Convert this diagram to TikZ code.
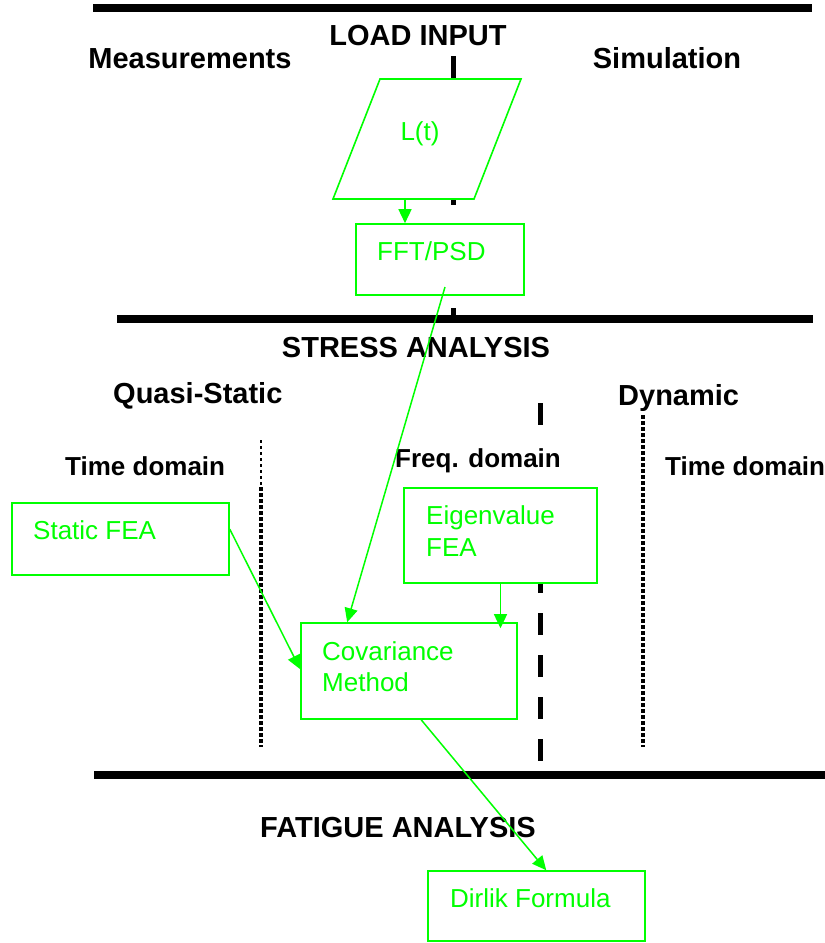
\documentclass[tikz,border=0pt]{standalone}
\usepackage{fontspec}
\setmainfont{Liberation Sans}
\usetikzlibrary{arrows.meta,calc}
\definecolor{grn}{RGB}{0,255,0}
\begin{document}
\begin{tikzpicture}[x=1pt,y=-1pt,
  rule/.style={line width=8pt},
  vdashed/.style={line width=5pt, dash pattern=on 23pt off 19pt},
  vdotted/.style={line width=3.5pt, dash pattern=on 3.5pt off 2.5pt},
  head/.style={font=\fontsize{29}{33}\selectfont\bfseries, inner sep=0pt, anchor=base},
  subhead/.style={font=\fontsize{26}{30}\selectfont\bfseries, inner sep=0pt, anchor=base west},
  gtext/.style={text=grn, font=\fontsize{26}{31}\selectfont, inner sep=0pt, anchor=base west},
  gbox/.style={draw=grn, line width=1.6pt, fill=white, inner sep=0pt},
  conn/.style={draw=grn, line width=1.5pt, -{Triangle[length=14pt,width=13pt]}}
]
\useasboundingbox (0,0) rectangle (825,943);

% horizontal rules
\coordinate (r1a) at (93,8);   \coordinate (r1b) at (812,8);
\coordinate (r2a) at (117,319); \coordinate (r2b) at (813,319);
\coordinate (r3a) at (94,775);  \coordinate (r3b) at (825,775);
\draw[rule] (r1a) -- (r1b);
\draw[rule] (r2a) -- (r2b);
\draw[rule] (r3a) -- (r3b);

% vertical dividers
\coordinate (d1a) at (453,56);  \coordinate (d1b) at (453,320);
\coordinate (d2a) at (540,403); \coordinate (d2b) at (540,762);
\draw[vdashed] (d1a) -- (d1b);
\draw[vdashed, dash pattern=on 22pt off 20pt] (d2a) -- (d2b);
\coordinate (q1) at (261,440); \coordinate (q2) at (261,487); \coordinate (q3) at (261,747);
\draw[line width=1.8pt, dash pattern=on 3pt off 3pt] (q1) -- (q2);
\draw[vdotted] (q2) -- (q3);
\coordinate (w1) at (643,415); \coordinate (w2) at (643,747);
\draw[vdotted] (w1) -- (w2);

% headings
\node[head] (load) at (418,45) {LOAD INPUT};
\node[head] (meas) at (190,68) {Measurements};
\node[head] (simu) at (667,68) {Simulation};
\node[head] (stress) at (416,357) {STRESS ANALYSIS};
\node[head, anchor=base west] (quasi) at (113,403) {Quasi-Static};
\node[head, anchor=base west] (dyn) at (618,405) {Dynamic};
\node[head] (fatigue) at (398,837) {FATIGUE ANALYSIS};
\node[subhead] (tdl) at (65,475) {Time domain};
\node[subhead, fill=white, inner sep=4pt] (fd) at (391,467) {Freq. domain};
\node[subhead] (tdr) at (665,475) {Time domain};

% parallelogram L(t)
\coordinate (p1) at (380,79);
\coordinate (p2) at (521,79);
\coordinate (p3) at (474,199);
\coordinate (p4) at (333,199);
\filldraw[draw=grn, line width=1.6pt, fill=white] (p1) -- (p2) -- (p3) -- (p4) -- cycle;
\node[gtext, anchor=base] (lt) at (420,140) {L(t)};

% boxes
\node[gbox, minimum width=168pt, minimum height=71pt] (fft) at (440,259.5) {};
\node[gtext] (fftt) at (377,260) {FFT/PSD};

\node[gbox, minimum width=217pt, minimum height=72pt] (sfea) at (120.5,539) {};
\node[gtext] (sfeat) at (33,539) {Static FEA};

\node[gbox, minimum width=193pt, minimum height=95pt] (eig) at (500.5,535.5) {};
\node[gtext] (eigt1) at (426,524) {Eigenvalue};
\node[gtext] (eigt2) at (426,556) {FEA};

\node[gbox, minimum width=216pt, minimum height=96pt] (cov) at (409,671) {};
\node[gtext] (covt1) at (322,660) {Covariance};
\node[gtext] (covt2) at (322,691) {Method};

\node[gbox, minimum width=217pt, minimum height=70pt] (dir) at (536.5,906) {};
\node[gtext] (dirt) at (450,907) {Dirlik Formula};

% connectors
\coordinate (pb) at (405,199);
\draw[conn] (pb) -- (fft.north -| pb);
\coordinate (fo) at (445,287);
\draw[conn] (fo) -- ($(cov.north west)+(47,0)$);
\draw[conn] ($(sfea.north east)+(0,27)$) -- ($(cov.north west)+(0,47)$);
\draw[conn] (eig.south) -- ($(cov.north -| eig.south)+(0,6)$);
\draw[conn] ($(cov.south west)+(121,0)$) -- ($(dir.north west)+(119,0)$);
\end{tikzpicture}
\end{document}
